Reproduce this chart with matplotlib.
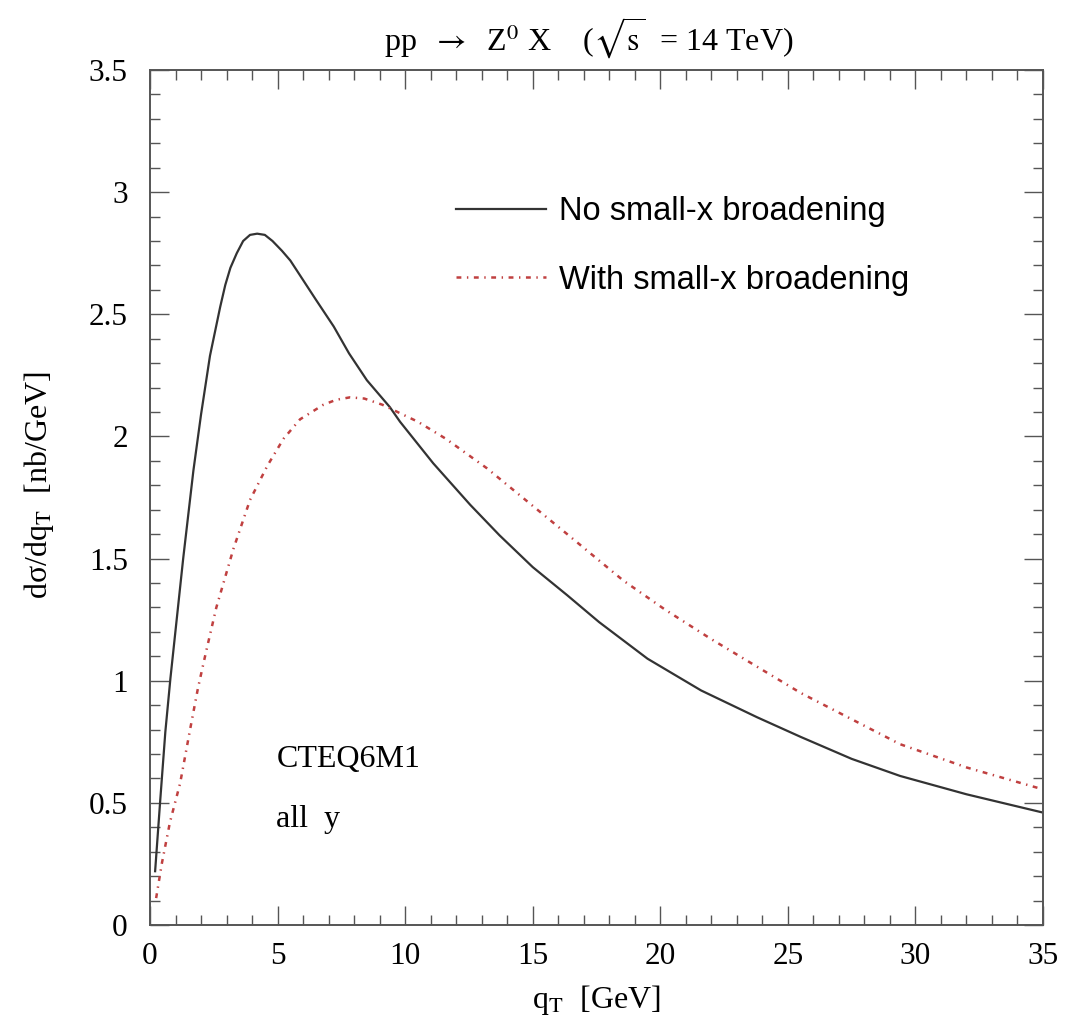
import matplotlib
matplotlib.use("Agg")
import matplotlib.pyplot as plt
from matplotlib.ticker import MultipleLocator, FormatStrFormatter

# values
qt_nobroad = [0.2, 0.4, 0.6, 0.8, 1.3, 1.7, 2.0, 2.35, 2.75, 2.95, 3.15, 3.4,
              3.65, 3.92, 4.2, 4.5, 4.8, 5.17, 5.5, 6.0, 6.5, 7.2, 7.8, 8.5,
              9.4, 9.8, 11.1, 12.55, 13.7, 15.0, 16.35, 17.6, 19.5, 21.6,
              23.8, 25.5, 27.5, 29.4, 32.0, 35.0]
ds_nobroad = [0.22, 0.51, 0.79, 1.01, 1.50, 1.86, 2.09, 2.33, 2.53, 2.62,
              2.69, 2.75, 2.80, 2.825, 2.83, 2.825, 2.80, 2.76, 2.72, 2.64,
              2.56, 2.45, 2.34, 2.23, 2.12, 2.06, 1.89, 1.72, 1.595, 1.465,
              1.35, 1.24, 1.09, 0.96, 0.85, 0.77, 0.68, 0.61, 0.535, 0.46]

qt_broad = [0.24, 0.46, 0.78, 1.18, 1.57, 1.88, 2.2, 2.6, 3.27, 3.92, 4.6,
            5.23, 5.88, 6.8, 7.3, 7.84, 8.4, 9.1, 9.9, 10.5, 11.6, 13.2,
            15.3, 16.35, 18.55, 20.2, 22.0, 25.5, 29.4, 32.0, 35.0]
ds_broad = [0.11, 0.25, 0.42, 0.58, 0.80, 0.97, 1.12, 1.30, 1.54, 1.74, 1.88,
            1.99, 2.07, 2.13, 2.15, 2.16, 2.155, 2.13, 2.09, 2.06, 1.99, 1.87,
            1.69, 1.60, 1.41, 1.29, 1.17, 0.95, 0.74, 0.645, 0.555]

plt.rcParams['font.family'] = ['Liberation Serif', 'DejaVu Serif']
plt.rcParams['mathtext.fontset'] = 'stix'
plt.rcParams['font.size'] = 23
plt.rcParams['lines.scale_dashes'] = False

fig = plt.figure(figsize=(10.67, 10.25), dpi=100)
ax = fig.add_axes([0.1406, 0.0976, 0.8369, 0.8341])

ax.plot(qt_nobroad, ds_nobroad, color='#333333', lw=1.6,
        label='No small-x broadening')
ax.plot(qt_broad, ds_broad, color='#c04040', lw=1.8,
        linestyle=(0, (3.5, 4.0, 1.0, 4.0)), label='With small-x broadening')

ax.set_xlim(0, 35)
ax.set_ylim(0, 3.5)
ax.xaxis.set_major_locator(MultipleLocator(5))
ax.xaxis.set_minor_locator(MultipleLocator(1))
ax.yaxis.set_major_locator(MultipleLocator(0.5))
ax.yaxis.set_minor_locator(MultipleLocator(0.1))
ax.yaxis.set_major_formatter(FormatStrFormatter('%g'))
ax.tick_params(which='both', direction='in', top=True, right=True,
               color='#555555', width=1.0, labelsize=22.5)
ax.tick_params(which='major', length=14)
ax.tick_params(which='minor', length=7)
ax.tick_params(axis='x', which='major', pad=12)
ax.tick_params(axis='y', which='major', pad=16)
for s in ax.spines.values():
    s.set_color('#555555')
    s.set_linewidth(1.4)

ax.set_xlabel(r'q$_{\rm T}$  [GeV]')
ax.xaxis.set_label_coords(0.5, -0.068)
ax.set_ylabel(r'dσ/dq$_{\rm T}$  [nb/GeV]')
ax.yaxis.set_label_coords(-0.105, 0.515)

fig.text(0.552, 0.963,
         r'pp  $\rightarrow$  Z$^{0}$ X    ($\sqrt{\rm s}$  = 14 TeV)',
         ha='center', va='center')

ax.text(4.95, 0.647, 'CTEQ6M1', va='baseline')
ax.text(4.95, 0.40, 'all  y', va='baseline')

ax.legend(loc='center left', bbox_to_anchor=(0.343, 0.794), frameon=False,
          borderpad=0, borderaxespad=0, handlelength=2.75, handletextpad=0.4,
          labelspacing=1.15, prop={'family': 'Liberation Sans', 'size': 23.5})

fig.savefig('out.png', dpi=100)
